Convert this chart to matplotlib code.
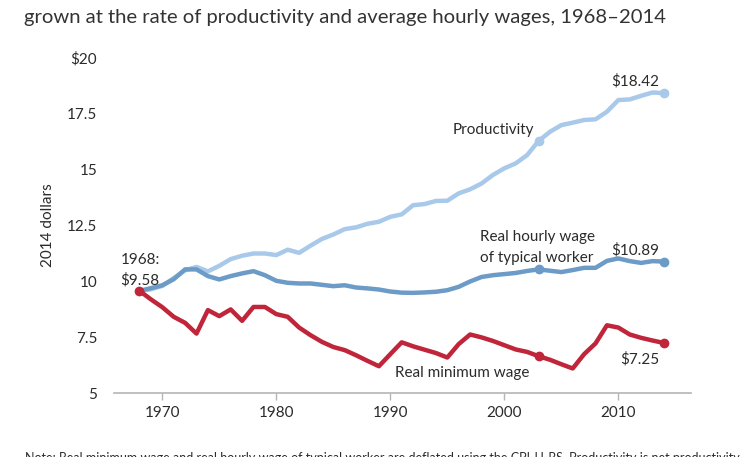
import matplotlib
matplotlib.use("Agg")
import matplotlib.pyplot as plt

plt.rcParams['font.family'] = ['Lato', 'DejaVu Sans']

years = list(range(1968, 2015))

productivity = [9.58, 9.65, 9.80, 10.15, 10.50, 10.65, 10.45, 10.70, 11.00, 11.15,
                11.25, 11.25, 11.18, 11.42, 11.28, 11.60, 11.90, 12.10, 12.34, 12.42,
                12.58, 12.67, 12.89, 13.00, 13.41, 13.46, 13.60, 13.61, 13.94, 14.12,
                14.38, 14.76, 15.06, 15.28, 15.65, 16.28, 16.69, 16.99, 17.10, 17.22,
                17.25, 17.59, 18.11, 18.14, 18.30, 18.45, 18.42]

typical_wage = [9.58, 9.70, 9.83, 10.10, 10.54, 10.54, 10.24, 10.09, 10.24, 10.36,
                10.46, 10.28, 10.03, 9.94, 9.91, 9.91, 9.85, 9.79, 9.83, 9.73,
                9.69, 9.64, 9.55, 9.50, 9.49, 9.51, 9.54, 9.61, 9.76, 10.00,
                10.20, 10.28, 10.33, 10.38, 10.47, 10.54, 10.48, 10.42, 10.51, 10.61,
                10.61, 10.92, 11.03, 10.91, 10.83, 10.91, 10.89]

min_wage = [9.58, 9.20, 8.85, 8.42, 8.15, 7.67, 8.72, 8.45, 8.75, 8.24,
            8.86, 8.86, 8.54, 8.42, 7.94, 7.60, 7.30, 7.07, 6.93, 6.70,
            6.45, 6.21, 6.75, 7.28, 7.10, 6.95, 6.80, 6.60, 7.20, 7.63,
            7.50, 7.34, 7.15, 6.96, 6.85, 6.66, 6.50, 6.30, 6.11, 6.75,
            7.23, 8.04, 7.94, 7.63, 7.48, 7.36, 7.25]

yticks = [5, 7.5, 10, 12.5, 15, 17.5, 20]
ytick_labels = ['5', '7.5', '10', '12.5', '15', '17.5', '$20']
xticks = [1970, 1980, 1990, 2000, 2010]

c_prod = '#a9c9ea'
c_wage = '#6b9bc6'
c_min = '#c0253a'
txt = '#2b2b2b'

fig = plt.figure(figsize=(7.4, 4.57), dpi=100)
ax = fig.add_axes([0.154, 0.1394, 0.7794, 0.7341])

lw = 3.2
ax.plot(years, productivity, color=c_prod, lw=lw, solid_capstyle='round', zorder=2)
ax.plot(years, typical_wage, color=c_wage, lw=lw, solid_capstyle='round', zorder=3)
ax.plot(years, min_wage, color=c_min, lw=lw, solid_capstyle='round', zorder=4)

# marker dots
mark_idx = [years.index(2003), years.index(2014)]
for series, col, z in [(productivity, c_prod, 5), (typical_wage, c_wage, 6), (min_wage, c_min, 7)]:
    ax.plot([years[i] for i in mark_idx], [series[i] for i in mark_idx], 'o',
            color=col, ms=6, zorder=z)
ax.plot([years[0]], [min_wage[0]], 'o', color=c_min, ms=6, zorder=8)

ax.set_xlim(1965.76, 2016.35)
ax.set_ylim(5, 20)
ax.set_yticks(yticks)
ax.set_yticklabels(ytick_labels)
ax.set_xticks(xticks)
for s in ['top', 'right', 'left']:
    ax.spines[s].set_visible(False)
ax.spines['bottom'].set_color('#b5b5b5')
ax.spines['bottom'].set_linewidth(1.2)
ax.tick_params(axis='x', colors='#b5b5b5', length=5, width=1, labelcolor=txt,
               labelsize=11, pad=4)
ax.tick_params(axis='y', length=0, labelcolor=txt, labelsize=11, pad=12)
ax.set_ylabel('2014 dollars', fontsize=11, color=txt, labelpad=9)

fs = 11
ax.text(1966.35, 10.96, '1968:', fontsize=fs, color=txt, va='center')
ax.text(1966.35, 10.07, '$9.58', fontsize=fs, color=txt, va='center')
ax.text(1995.5, 16.78, 'Productivity', fontsize=fs, color=txt, va='center')
ax.text(2013.6, 18.94, '$18.42', fontsize=fs, color=txt, va='center', ha='right')
ax.text(1997.9, 12.0, 'Real hourly wage', fontsize=fs, color=txt, va='center')
ax.text(1997.9, 11.04, 'of typical worker', fontsize=fs, color=txt, va='center')
ax.text(2013.6, 11.41, '$10.89', fontsize=fs, color=txt, va='center', ha='right')
ax.text(1990.4, 5.92, 'Real minimum wage', fontsize=fs, color=txt, va='center')
ax.text(2013.6, 6.52, '$7.25', fontsize=fs, color=txt, va='center', ha='right')

fig.text(0.033, 1 - 22.6 / 457, 'grown at the rate of productivity and average hourly wages, 1968\u20132014',
         fontsize=14.6, color='#333333', va='baseline', ha='left')
fig.text(25 / 740, 1 - 452 / 457,
         'Note: Real minimum wage and real hourly wage of typical worker are deflated using the CPI-U-RS. Productivity is net productivity.',
         fontsize=9, color=txt, va='top', ha='left')

fig.savefig('out.png', dpi=100)
